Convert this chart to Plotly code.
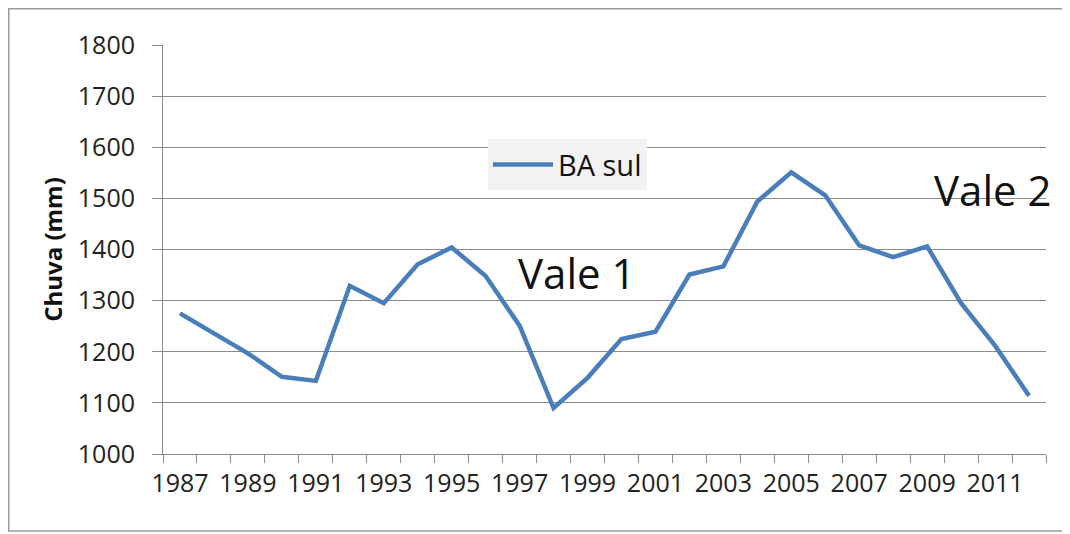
import plotly.graph_objects as go

years = list(range(1987, 2013))
chuva = [1275, 1235, 1197, 1151, 1143, 1329, 1295, 1371, 1404, 1348, 1251, 1090,
         1149, 1225, 1239, 1351, 1367, 1494, 1551, 1506, 1408, 1385, 1406, 1295,
         1212, 1114]
series_name = "BA sul"
label_years = list(range(1987, 2012, 2))
y_ticks = list(range(1000, 1801, 100))

FONT = "'Open Sans', Calibri, Carlito, sans-serif"
GRID = "#8a8a8a"

# plot area (figure px): x 155 -> 1038, y 37 -> 446
L, R, T, B = 155, 32, 37, 88
PW, PH = 1070 - L - R, 534 - T - B

fig = go.Figure()
fig.add_trace(go.Scatter(
    x=years, y=chuva, mode="lines", name=series_name,
    line=dict(color="#4A7EBB", width=4.5),
))

fig.update_layout(
    width=1070, height=534,
    margin=dict(l=L, r=R, t=T, b=B),
    paper_bgcolor="white", plot_bgcolor="white",
    font=dict(family=FONT, color="#222222"),
    showlegend=True,
    legend=dict(
        x=0.368, y=0.77, xanchor="left", yanchor="top",
        bgcolor="#f2f2f2", font=dict(size=29, family=FONT, color="#111111"),
        itemwidth=60, borderwidth=0,
    ),
    xaxis=dict(
        range=[1986.5, 2012.5], tickvals=label_years,
        ticktext=[str(v) for v in label_years],
        ticks="", showgrid=False, zeroline=False,
        showline=True, linecolor=GRID, linewidth=1,
        tickfont=dict(size=25, family=FONT, color="#222222"),
        ticklabelstandoff=7,
        minor=dict(ticks="outside", tick0=1986.5, dtick=1, ticklen=8,
                   tickcolor=GRID, tickwidth=1, showgrid=False),
        fixedrange=True,
    ),
    yaxis=dict(
        range=[1000, 1800], tickvals=y_ticks,
        ticks="outside", ticklen=10, tickcolor=GRID, tickwidth=1,
        showgrid=True, gridcolor=GRID, gridwidth=1, zeroline=False,
        showline=True, linecolor=GRID, linewidth=1,
        tickfont=dict(size=25, family=FONT, color="#222222"),
        ticklabelstandoff=12,
        title=dict(text="<b>Chuva (mm)</b>", font=dict(size=24, family=FONT, color="#111111"),
                   standoff=8),
        fixedrange=True,
    ),
    annotations=[
        dict(x=1996.9, y=1356, xref="x", yref="y", text="Vale 1", showarrow=False,
             xanchor="left", yanchor="middle", font=dict(size=42, family=FONT, color="#111111")),
        dict(x=2009.15, y=1517, xref="x", yref="y", text="Vale 2", showarrow=False,
             xanchor="left", yanchor="middle", font=dict(size=42, family=FONT, color="#111111")),
    ],
    shapes=[
        dict(type="rect", xref="paper", yref="paper",
             x0=(0.75 - L) / PW, x1=(1090 - L) / PW,
             y0=-(523 - (534 - B)) / PH, y1=((534 - B) - 0.75) / PH,
             line=dict(color="#9a9a9a", width=1.5), fillcolor="rgba(0,0,0,0)", layer="below"),
    ],
)

fig.write_html("out.html")
